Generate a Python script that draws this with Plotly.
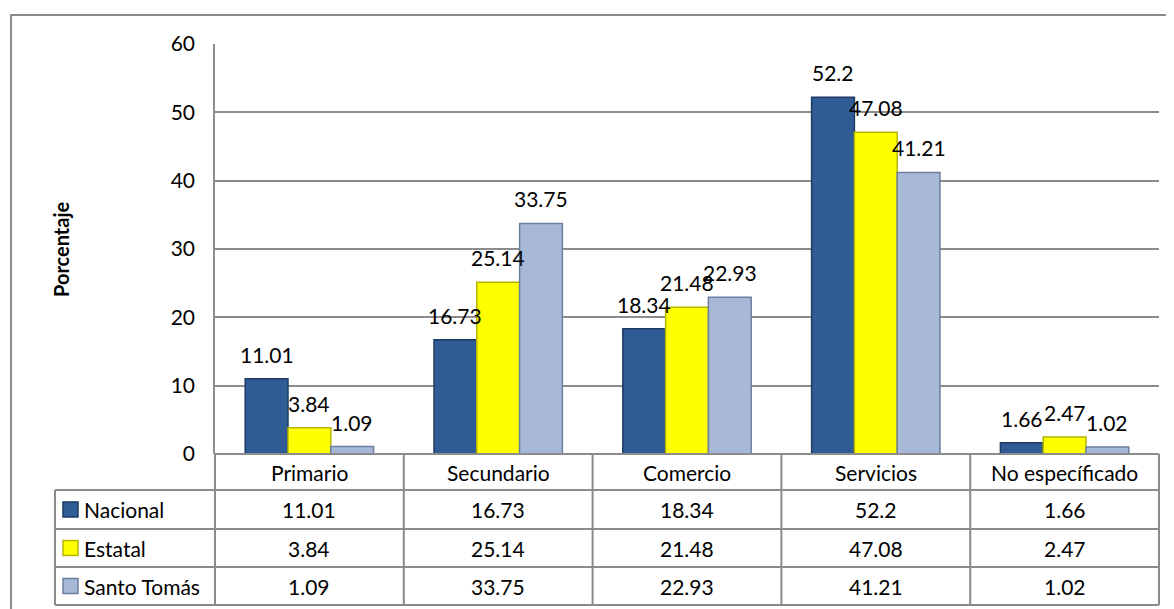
import plotly.graph_objects as go

# data
categories = ["Primario", "Secundario", "Comercio", "Servicios", "No específicado"]
series_names = ["Nacional", "Estatal", "Santo Tomás"]
nacional = [11.01, 16.73, 18.34, 52.2, 1.66]
estatal = [3.84, 25.14, 21.48, 47.08, 2.47]
santo_tomas = [1.09, 33.75, 22.93, 41.21, 1.02]
y_ticks = [0, 10, 20, 30, 40, 50, 60]

W, H = 1174, 609
OFF = 8  # page body margin
FONT = "Lato"
FS = 21
GRID = "#8c8c8c"
fills = ["#2f5c95", "#ffff00", "#a7b9d7"]
edges = ["#1d3b63", "#b5b500", "#6c7f9f"]


def px(x):
    return (x - OFF) / W


def py(y):
    return 1 - (y - OFF) / H


# plot area, in screenshot pixels
X0, X1 = 215, 1159
Y_TOP, Y_ZERO = 44, 454
ROWS = [454, 490, 529, 567, 605]
LEG_X = 55
BARGAP = 0.32
col_w = (X1 - X0) / len(categories)
bar_w = col_w * (1 - BARGAP) / len(series_names)

all_series = [nacional, estatal, santo_tomas]

fig = go.Figure()
annotations = []
for k, (name, vals, fc, ec) in enumerate(zip(series_names, all_series, fills, edges)):
    fig.add_trace(go.Bar(
        x=categories, y=vals, name=name,
        marker=dict(color=fc, line=dict(color=ec, width=1.5)),
        cliponaxis=False,
    ))
    for cat, v in zip(categories, vals):
        annotations.append(dict(x=cat, y=v, xref="x", yref="y", text=str(v), showarrow=False,
                                xshift=(k - 1) * bar_w, yshift=10, yanchor="bottom", xanchor="center",
                                font=dict(family=FONT, size=FS, color="#000000")))

shapes = []
line = dict(color=GRID, width=2)
# outer chart border
shapes.append(dict(type="rect", xref="paper", yref="paper", x0=px(11), x1=px(1200),
                   y0=py(650), y1=py(15), line=dict(color="#8c8c8c", width=2)))
# table grid
for i, yy in enumerate(ROWS):
    xs = X0 if i == 0 else LEG_X
    shapes.append(dict(type="line", xref="paper", yref="paper", x0=px(xs), x1=px(X1),
                       y0=py(yy), y1=py(yy), line=line))
for j in range(len(categories) + 1):
    xx = X0 + j * col_w
    shapes.append(dict(type="line", xref="paper", yref="paper", x0=px(xx), x1=px(xx),
                       y0=py(ROWS[0]), y1=py(ROWS[-1]), line=line))
shapes.append(dict(type="line", xref="paper", yref="paper", x0=px(LEG_X), x1=px(LEG_X),
                   y0=py(ROWS[1]), y1=py(ROWS[-1]), line=line))

for j, cat in enumerate(categories):
    cx = X0 + (j + 0.5) * col_w
    annotations.append(dict(x=px(cx), y=py((ROWS[0] + ROWS[1]) / 2), xref="paper", yref="paper",
                            text=cat, showarrow=False, xanchor="center", yanchor="middle",
                            font=dict(family=FONT, size=FS, color="#000000")))
for i, (name, vals) in enumerate(zip(series_names, all_series)):
    cy = (ROWS[i + 1] + ROWS[i + 2]) / 2
    # legend key square
    shapes.append(dict(type="rect", xref="paper", yref="paper", x0=px(63), x1=px(78),
                       y0=py(cy + 7.5), y1=py(cy - 7.5), fillcolor=fills[i],
                       line=dict(color=edges[i], width=1.5)))
    annotations.append(dict(x=px(82), y=py(cy), xref="paper", yref="paper", xanchor="left",
                            yanchor="middle", text=name, showarrow=False,
                            font=dict(family=FONT, size=FS, color="#000000")))
    for j, v in enumerate(vals):
        cx = X0 + (j + 0.5) * col_w
        annotations.append(dict(x=px(cx), y=py(cy), xref="paper", yref="paper",
                                xanchor="center", yanchor="middle",
                                text=str(v), showarrow=False,
                                font=dict(family=FONT, size=FS, color="#000000")))

annotations.append(dict(x=px(61), y=py(249), xref="paper", yref="paper", text="<b>Porcentaje</b>",
                        textangle=-90, showarrow=False, xanchor="center", yanchor="middle",
                        font=dict(family=FONT, size=20, color="#000000")))

fig.update_layout(
    template="none",
    width=W, height=H,
    margin=dict(l=0, r=0, t=0, b=0, autoexpand=False),
    paper_bgcolor="white", plot_bgcolor="white",
    barmode="group", bargap=BARGAP, bargroupgap=0,
    showlegend=False,
    shapes=shapes, annotations=annotations,
    xaxis=dict(domain=[px(X0), px(X1)], showticklabels=False, showgrid=False, automargin=False,
               zeroline=False, showline=False, ticks=""),
    yaxis=dict(domain=[py(Y_ZERO), py(Y_TOP)], range=[0, 60], tickvals=y_ticks, automargin=False,
               showgrid=True, gridcolor=GRID, gridwidth=1.5, zeroline=False,
               showline=True, linecolor=GRID, linewidth=1.5, ticks="", ticklabelstandoff=14,
               tickfont=dict(family=FONT, size=FS, color="#000000")),
)

fig.write_html("out.html")
